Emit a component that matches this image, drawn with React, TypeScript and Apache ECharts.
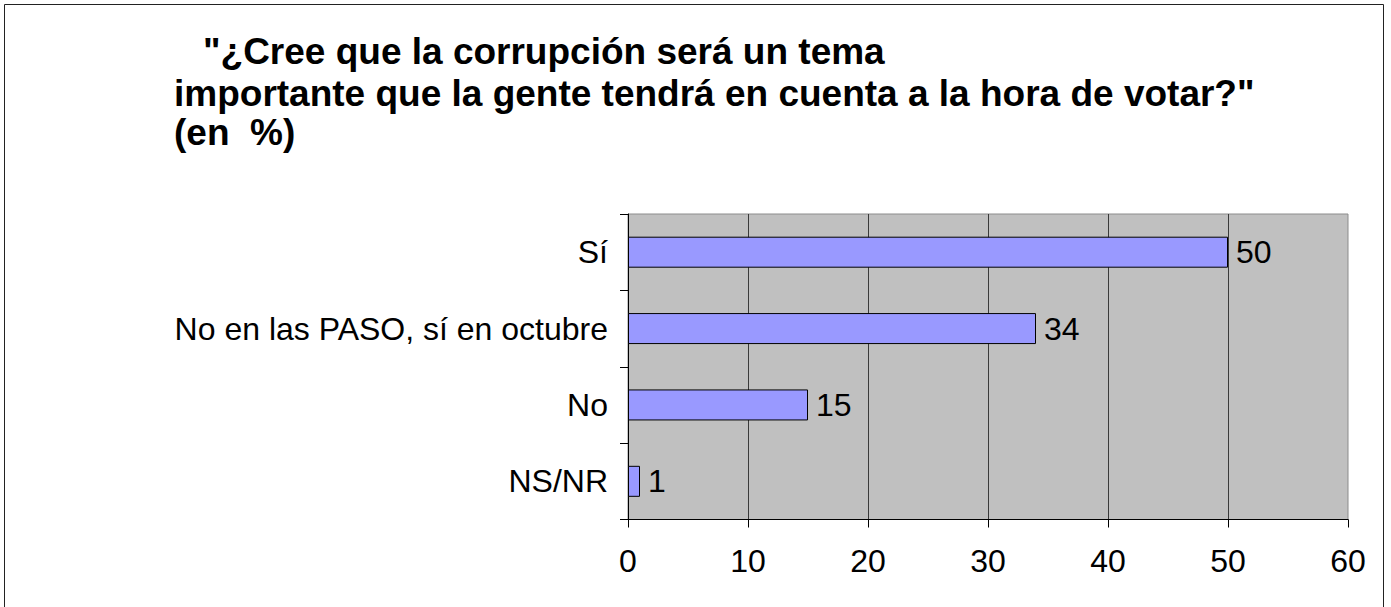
import React, { useEffect, useRef } from "react";
import * as echarts from "echarts";

const categories = ["Sí", "No en las PASO, sí en octubre", "No", "NS/NR"];
const values = [50, 34, 15, 1];
const xTicks = [0, 10, 20, 30, 40, 50, 60];
const titleLines = [
  "\"¿Cree que la corrupción será un tema",
  "importante que la gente tendrá en cuenta a la hora de votar?\"",
  "(en  %)",
];

const FONT = "'Liberation Sans', Arial, sans-serif";

export default function App() {
  const ref = useRef<HTMLDivElement>(null);
  useEffect(() => {
    if (!ref.current) return;
    const chart = echarts.init(ref.current, undefined, { renderer: "svg" });
    const titleStyle = (text: string) => ({
      text,
      font: `bold 37px ${FONT}`,
      fill: "#000",
      verticalAlign: "middle",
      align: "left",
    });
    chart.setOption({
      animation: false,
      backgroundColor: "#ffffff",
      textStyle: { fontFamily: FONT },
      graphic: [
        {
          type: "rect",
          shape: { x: 4.5, y: 4.5, width: 1379, height: 700 },
          style: { fill: "none", stroke: "#222", lineWidth: 1 },
          silent: true,
        },
        { type: "text", x: 203, y: 51.5, style: titleStyle(titleLines[0]) },
        { type: "text", x: 174, y: 93, style: titleStyle(titleLines[1]) },
        { type: "text", x: 174, y: 132.5, style: titleStyle(titleLines[2]) },
      ],
      grid: {
        left: 628,
        top: 214,
        right: 43,
        bottom: 87.5,
        show: true,
        backgroundColor: "#c0c0c0",
        borderColor: "#8c8c8c",
        borderWidth: 1,
      },
      xAxis: {
        type: "value",
        min: xTicks[0],
        max: xTicks[xTicks.length - 1],
        interval: 10,
        axisLine: { show: true, lineStyle: { color: "#000", width: 1 } },
        axisTick: { show: true, length: 8, lineStyle: { color: "#000" } },
        axisLabel: { fontSize: 32, color: "#000", margin: 25, fontFamily: FONT },
        splitLine: {
          show: true,
          showMinLine: false,
          showMaxLine: false,
          lineStyle: { color: "#3a3a3a", width: 1 },
        },
      },
      yAxis: {
        type: "category",
        inverse: true,
        data: categories,
        axisLine: { show: true, lineStyle: { color: "#000", width: 1 } },
        axisTick: { show: true, length: 8, alignWithLabel: false, lineStyle: { color: "#000" } },
        axisLabel: { fontSize: 32, color: "#000", margin: 20, fontFamily: FONT },
        splitLine: { show: false },
      },
      series: [
        {
          type: "bar",
          data: values,
          barWidth: 31,
          itemStyle: { color: "#9999ff", borderColor: "#000", borderWidth: 1 },
          label: {
            show: true,
            position: "right",
            distance: 8,
            fontSize: 32,
            color: "#000",
            fontFamily: FONT,
          },
        },
      ],
    });
    return () => chart.dispose();
  }, []);
  return (
    <div
      ref={ref}
      style={{ position: "absolute", left: 0, top: 0, width: 1391, height: 607 }}
    />
  );
}
